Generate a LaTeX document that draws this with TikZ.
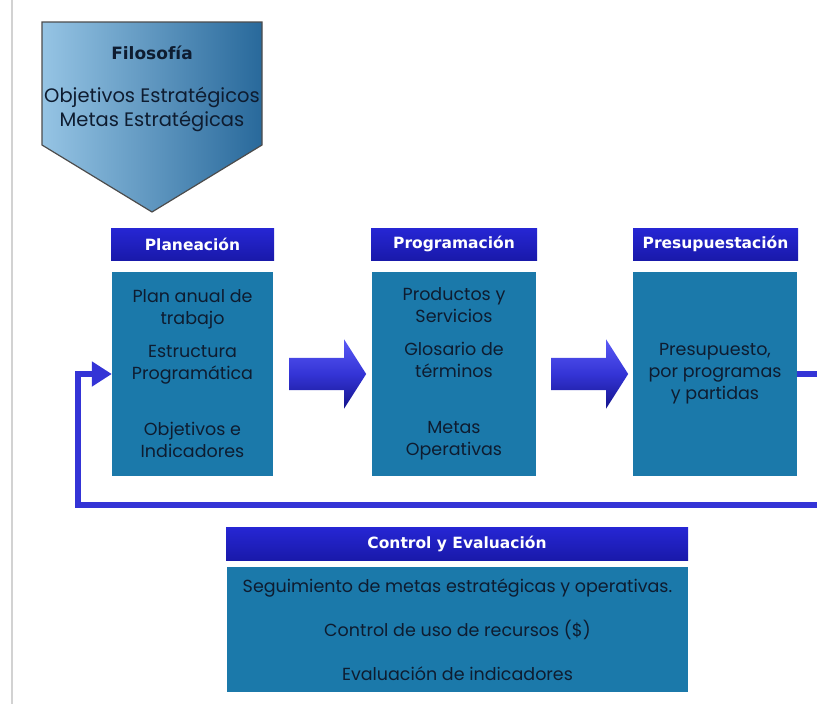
\documentclass[tikz,border=0pt]{standalone}
\usepackage{fontspec}
\newfontfamily\cuerpofont{Poppins}
\newfontfamily\cabfont{DejaVu Sans}
\usetikzlibrary{calc,shapes.arrows,arrows.meta}

\definecolor{cabecera}{RGB}{38,38,212}
\definecolor{cabeceraosc}{RGB}{25,25,170}
\definecolor{cuerpo}{RGB}{27,121,170}
\definecolor{flecha}{RGB}{52,52,214}
\definecolor{flechaclara}{RGB}{90,90,245}
\definecolor{flechaosc}{RGB}{20,20,140}
\definecolor{texto}{RGB}{14,28,48}
\definecolor{filoclaro}{RGB}{150,196,228}
\definecolor{filooscuro}{RGB}{40,105,155}

\begin{document}
\begin{tikzpicture}[x=1pt,y=-1pt,
    cab/.style={top color=cabecera, bottom color=cabeceraosc, text=white,
      font=\cabfont\bfseries\fontsize{15.5}{18}\selectfont, inner sep=0pt},
    caja/.style={fill=cuerpo, text=texto, align=center, inner sep=0pt,
      font=\cuerpofont\fontsize{17.5}{22}\selectfont},
    bloque/.style={single arrow, single arrow head extend=18.5pt,
      single arrow tip angle=115,
      minimum height=77pt, text height=16pt, text depth=16pt, inner sep=0pt,
      shading=axis, top color=flechaclara, bottom color=flechaosc,
      middle color=flecha},
    lazo/.style={draw=flecha, line width=6pt}]

  \useasboundingbox (0,0) rectangle (817,704);
  \clip (0,0) rectangle (817,704);

  \draw[gray!35, line width=1.5pt] (12,0) -- (12,704);

  % filosofia
  \shade[left color=filoclaro, right color=filooscuro]
    (42,22) -- (262,22) -- (262,145) -- (152,212) -- (42,145) -- cycle;
  \draw[black!70, line width=1.2pt]
    (42,22) -- (262,22) -- (262,145) -- (152,212) -- (42,145) -- cycle;
  \node[text=texto, font=\cabfont\bfseries\fontsize{17}{20}\selectfont]
    (filo) at (152,53) {Filosofía};
  \node[text=texto, align=center, font=\cuerpofont\fontsize{19.5}{24}\selectfont]
    (estrat) at (152,110) {Objetivos Estratégicos\\Metas Estratégicas};

  % cabeceras
  \node[cab, minimum width=163pt, minimum height=32pt] (planH) at (192.5,244) {Planeación};
  \node[cab, minimum width=166pt, minimum height=32pt] (progH) at (454,244) {Programación};
  \node[cab, minimum width=165pt, minimum height=32pt] (presH) at (715.5,244) {Presupuestación};

  % cuerpos
  \node[caja, minimum width=161pt, minimum height=204pt] (plan) at (192.5,374)
    {Plan anual de\\trabajo\\[11pt]Estructura\\Programática\\[34pt]Objetivos e\\Indicadores};
  \node[caja, minimum width=164pt, minimum height=204pt] (prog) at (454,374)
    {Productos y\\Servicios\\[11pt]Glosario de\\términos\\[34pt]Metas\\Operativas};
  \node[caja, minimum width=164pt, minimum height=204pt] (pres) at (715,374)
    {Presupuesto,\\por programas\\y partidas};

  % flechas
  \node[bloque] (f1) at ($(plan.east)!0.5!(prog.west)$) {};
  \node[bloque] (f2) at ($(prog.east)!0.5!(pres.west)$) {};

  % retroalimentacion
  \coordinate (fuera) at (840,505);
  \draw[lazo, -{Triangle[length=20pt,width=24pt]}]
    (pres.east) -| (fuera) -| ([xshift=-34pt]plan.west) -- (plan.west);

  % control
  \node[cab, minimum width=462pt, minimum height=33pt] (ctrlH) at (457,543.5) {Control y Evaluación};
  \node[caja, minimum width=461pt, minimum height=125pt] (ctrl) at (457.5,629.5)
    {Seguimiento de metas estratégicas y operativas.\\[22pt]Control de uso de recursos (\$)\\[22pt]Evaluación de indicadores};

\end{tikzpicture}
\end{document}
